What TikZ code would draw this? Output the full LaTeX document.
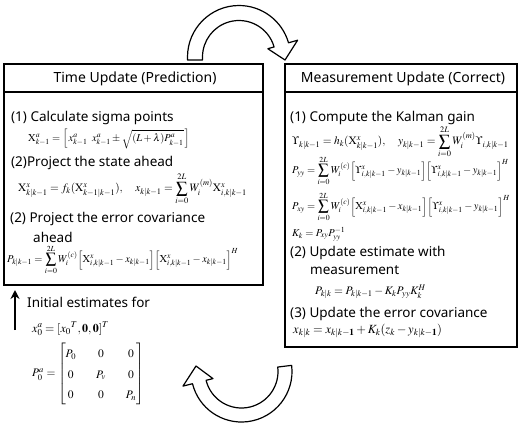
\documentclass[tikz,border=0pt]{standalone}
\usepackage{amsmath}
\usepackage{mathptmx}
\usepackage[no-math]{fontspec}
\setmainfont{Noto Sans}
\usetikzlibrary{arrows.meta}
\tikzset{
  box/.style={draw=black, line width=1.3pt, inner sep=0pt, outer sep=0pt},
  boxline/.style={draw=black, line width=1.1pt},
  ttl/.style={inner sep=0pt, font=\fontsize{14}{16}\selectfont},
  txt/.style={anchor=west, inner sep=0pt, font=\fontsize{13.5}{15}\selectfont},
  fm/.style={anchor=west, inner sep=0pt, font=\fontsize{10.5}{12}\selectfont},
  bigarrow/.style={draw=black, fill=white, line width=1.2pt, line join=round},
  initarrow/.style={draw=black, line width=2.4pt, -{Stealth[length=9pt,width=9pt]}}
}
\begin{document}
\begin{tikzpicture}[x=1pt,y=-1pt]
\useasboundingbox (0,0) rectangle (518,424);
% boxes
\node[box, minimum width=259, minimum height=221, anchor=north west] (tu) at (4,64) {};
\draw[boxline] (tu.west |- 0,92) -- (tu.east |- 0,92);
\node[box, minimum width=232, minimum height=283, anchor=north west] (mu) at (285,64) {};
\draw[boxline] (mu.west |- 0,92) -- (mu.east |- 0,92);
% titles
\node[ttl] (tut) at (135,79) {Time Update (Prediction)};
\node[ttl] (mut) at (403,79) {Measurement Update (Correct)};
% left content
\node[txt] (l1) at (11,118) {(1) Calculate sigma points};
\node[fm] (l1f) at (28,139) {$\mathrm{X}^a_{k-1}=\Big[\,x^a_{k-1}\;\; x^a_{k-1}\pm\sqrt{(L+\lambda)P^a_{k-1}}\,\Big]$};
\node[txt] (l2) at (11,163) {(2)Project the state ahead};
\node[fm, font=\fontsize{11.3}{13}\selectfont] (l2f) at (18,189) {$\mathrm{X}^x_{k|k-1}=f_k(\mathrm{X}^x_{k-1|k-1}),\quad x_{k|k-1}=\displaystyle\sum_{i=0}^{2L}W_i^{(m)}\mathrm{X}^x_{i,k|k-1}$};
\node[txt] (l3) at (10,219) {(2) Project the error covariance};
\node[txt] (l3b) at (33,237) {ahead};
\node[fm] (l3f) at (7,260) {$P_{k|k-1}=\displaystyle\sum_{i=0}^{2L}W_i^{(c)}\Big[\mathrm{X}^x_{i,k|k-1}-x_{k|k-1}\Big]\Big[\mathrm{X}^x_{i,k|k-1}-x_{k|k-1}\Big]^H$};
% right content
\node[txt] (r1) at (290,118) {(1) Compute the Kalman gain};
\node[fm, font=\fontsize{11.3}{13}\selectfont] (r1f) at (292,142) {$\Upsilon_{k|k-1}=h_k(\mathrm{X}^x_{k|k-1}),\quad y_{k|k-1}=\displaystyle\sum_{i=0}^{2L}W_i^{(m)}\Upsilon_{i,k|k-1}$};
\node[fm] (r2f) at (292,171) {$P_{yy}=\displaystyle\sum_{i=0}^{2L}W_i^{(c)}\Big[\Upsilon^x_{i,k|k-1}-y_{k|k-1}\Big]\Big[\Upsilon^x_{i,k|k-1}-y_{k|k-1}\Big]^H$};
\node[fm] (r3f) at (292,207) {$P_{xy}=\displaystyle\sum_{i=0}^{2L}W_i^{(c)}\Big[\mathrm{X}^x_{i,k|k-1}-x_{k|k-1}\Big]\Big[\Upsilon^x_{i,k|k-1}-y_{k|k-1}\Big]^H$};
\node[fm] (r4f) at (292,234) {$K_k=P_{xy}P_{yy}^{-1}$};
\node[txt] (r5) at (290,253) {(2) Update estimate with};
\node[txt] (r5b) at (310,270) {measurement};
\node[fm, font=\fontsize{11.5}{13}\selectfont] (r5f) at (315,292) {$P_{k|k}=P_{k|k-1}-K_kP_{yy}K_k^H$};
\node[txt] (r6) at (290,314) {(3) Update the error covariance};
\node[fm, font=\fontsize{12.5}{14}\selectfont] (r6f) at (293,331) {$x_{k|k}=x_{k|k-\mathbf{1}}+K_k(z_k-y_{k|k-\mathbf{1}})$};
% initial estimates
\coordinate (ia0) at (15,330);
\coordinate (ia1) at (15,290);
\draw[initarrow] (ia0) -- (ia1);
\node[txt] (ie) at (27,302) {Initial estimates for};
\node[fm, font=\fontsize{12}{14}\selectfont] (x0) at (32,329) {$x^a_0=[{x_0}^T,\mathbf{0},\mathbf{0}]^T$};
\node[fm, font=\fontsize{11.5}{13}\selectfont] (p0) at (32,374) {$P^a_0={\setlength{\arraycolsep}{10pt}\renewcommand{\arraystretch}{1.6}\begin{bmatrix}P_0&0&0\\0&P_v&0\\0&0&P_n\end{bmatrix}}$};
% big curved arrows
\coordinate (ct) at (239,57);
\draw[bigarrow] (187.5,60) -- ([shift={(180:51.5)}]ct) arc[start angle=180,end angle=344,radius=51.5]
  -- ([shift={(-16:61)}]ct) -- ([shift={(46,3)}]ct) -- ([shift={(-16:30)}]ct)
  -- ([shift={(-16:36.5)}]ct) arc[start angle=344,end angle=180,radius=36.5] -- (202.5,60) -- cycle;
\coordinate (cb) at (241.5,371.5);
\draw[bigarrow] ([shift={(-7:50.5)}]cb) arc[start angle=-7,end angle=166,radius=50.5]
  -- ([shift={(166:60.3)}]cb) -- ([shift={(-45.5,-5.5)}]cb) -- ([shift={(166:29.4)}]cb)
  -- ([shift={(166:36.5)}]cb) arc[start angle=166,end angle=-7,radius=36.5] -- cycle;
\end{tikzpicture}
\end{document}
